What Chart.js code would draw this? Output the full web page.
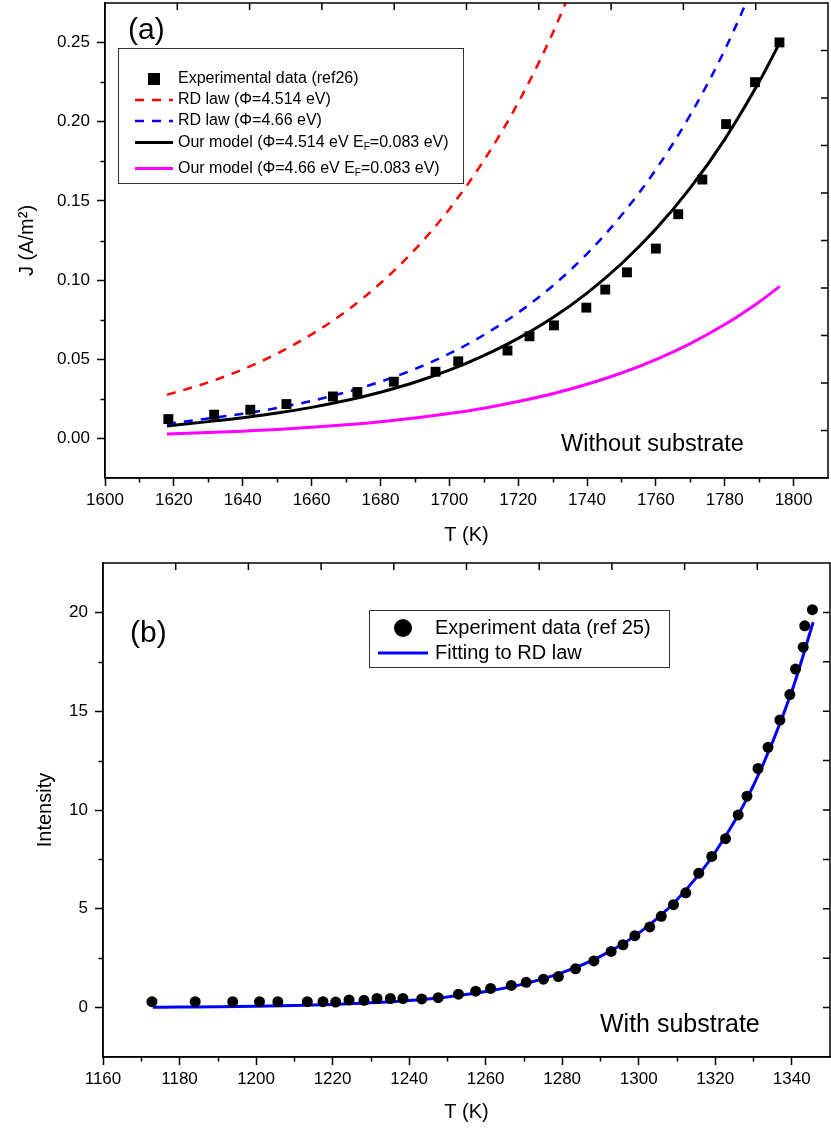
<!DOCTYPE html>
<html>
<head>
<meta charset="utf-8">
<title>J and intensity vs T</title>
<script src="https://cdn.jsdelivr.net/npm/chart.js@4.4.1/dist/chart.umd.min.js"></script>
<style>
  body { margin: 0; background: #fff; }
  #wrap { position: relative; width: 831px; height: 1129px; }
  #wrap canvas { position: absolute; left: 0; }
  #chartA { top: 0; }
  #chartB { top: 550px; }
</style>
</head>
<body>
<div id="wrap">
  <canvas id="chartA" width="831" height="550"></canvas>
  <canvas id="chartB" width="831" height="579"></canvas>
</div>
<script>
// ---- (a) without substrate ----
const expT_a = [1618.4, 1631.7, 1642.2, 1652.7, 1666.2, 1673.3, 1683.9, 1696.0, 1702.6, 1716.9, 1723.3,
                1730.4, 1739.8, 1745.3, 1751.6, 1760.0, 1766.5, 1773.5, 1780.4, 1788.8, 1795.9];
const expJ_a = [0.0122, 0.0150, 0.0181, 0.0217, 0.0265, 0.0293, 0.0358, 0.0421, 0.0487, 0.0555, 0.0645,
                0.0714, 0.0826, 0.0940, 0.1049, 0.1199, 0.1416, 0.1635, 0.1985, 0.2250, 0.2501];

const rdT_514 = [1618, 1630, 1640, 1650, 1660, 1670, 1680, 1690, 1700, 1710, 1720, 1730, 1740];
const rdJ_514 = [0.0275, 0.0354, 0.0436, 0.0536, 0.0657, 0.0803, 0.098, 0.1192, 0.1448, 0.1754, 0.212, 0.2558, 0.308];

const rdT_466 = [1618, 1630, 1640, 1650, 1660, 1670, 1680, 1690, 1700, 1710, 1720, 1730, 1740, 1750, 1760, 1770, 1780, 1790];
const rdJ_466 = [0.0092, 0.0126, 0.0156, 0.0192, 0.0237, 0.0292, 0.0358, 0.0438, 0.0535, 0.0653, 0.0794, 0.0963,
                 0.1166, 0.1409, 0.1698, 0.2043, 0.2453, 0.294];

const modelT = [1618, 1630, 1640, 1650, 1660, 1670, 1680, 1690, 1700, 1710, 1720, 1730, 1740, 1750, 1760, 1770, 1780, 1790, 1796];
const modelJ_514 = [0.0078, 0.0106, 0.0130, 0.0160, 0.0196, 0.0239, 0.0292, 0.0355, 0.0431, 0.0523, 0.0632, 0.0762,
                    0.0918, 0.1103, 0.1322, 0.1582, 0.1889, 0.2252, 0.25];
const modelJ_466 = [0.0028, 0.0037, 0.0046, 0.0056, 0.0070, 0.0086, 0.0105, 0.0129, 0.0157, 0.0191, 0.0233, 0.0282,
                    0.0342, 0.0413, 0.0498, 0.0599, 0.0719, 0.0862, 0.096];

const xTicksA = [1600, 1620, 1640, 1660, 1680, 1700, 1720, 1740, 1760, 1780, 1800];
const yTicksA = [0, 0.05, 0.10, 0.15, 0.20, 0.25];

// ---- (b) with substrate ----
const expT_b = [1172.8, 1184.1, 1193.9, 1200.9, 1205.7, 1213.4, 1217.5, 1220.8, 1224.3, 1228.2, 1231.6, 1235.1,
                1238.4, 1243.3, 1247.6, 1252.9, 1257.4, 1261.3, 1266.7, 1270.6, 1275.1, 1279.0, 1283.5, 1288.3,
                1292.8, 1295.9, 1299.0, 1302.9, 1305.9, 1309.1, 1312.3, 1315.7, 1319.1, 1322.7, 1326.0, 1328.3,
                1331.2, 1333.8, 1336.9, 1339.5, 1341.0, 1343.0, 1343.4, 1345.4];
const expI_b = [0.30, 0.30, 0.30, 0.30, 0.30, 0.30, 0.30, 0.28, 0.39, 0.37, 0.46, 0.46,
                0.46, 0.44, 0.50, 0.68, 0.83, 0.97, 1.12, 1.28, 1.44, 1.57, 1.96, 2.36,
                2.84, 3.18, 3.64, 4.08, 4.62, 5.21, 5.81, 6.80, 7.65, 8.55, 9.75, 10.70,
                12.10, 13.17, 14.55, 15.84, 17.13, 18.24, 19.32, 20.14];

const fitT_b = [1173, 1180, 1190, 1200, 1210, 1220, 1230, 1240, 1250, 1260, 1270, 1280, 1290, 1300, 1310, 1320, 1330, 1340, 1345.6];
const fitI_b = [0.02, 0.03, 0.043, 0.067, 0.103, 0.158, 0.24, 0.36, 0.54, 0.81, 1.2, 1.77, 2.59, 3.77, 5.46, 7.86, 11.25, 16.0, 19.5];

const xTicksB = [1160, 1180, 1200, 1220, 1240, 1260, 1280, 1300, 1320, 1340];
const yTicksB = [0, 5, 10, 15, 20];

const FONT = '"Liberation Sans", Arial, Helvetica, sans-serif';
const pts = (xs, ys) => xs.map((x, i) => ({ x, y: ys[i] }));
const font = size => ({ family: FONT, size });

function midpoints(ticks, min, max) {
    const step = ticks[1] - ticks[0];
    const out = [];
    for (let v = ticks[0] - step / 2; v < max - step / 100; v += step) {
        if (v > min + step / 100) out.push(v);
    }
    return out;
}

// draws label text, "_X" turns X into a subscript
function drawLabel(ctx, text, x, y, size) {
    const parts = text.split('_');
    let cx = x;
    parts.forEach((p, i) => {
        if (i > 0) {
            const sub = p.charAt(0);
            ctx.font = `${Math.round(size * 0.62)}px ${FONT}`;
            ctx.fillText(sub, cx, y + size * 0.32);
            cx += ctx.measureText(sub).width;
            p = p.slice(1);
        }
        ctx.font = `${size}px ${FONT}`;
        ctx.fillText(p, cx, y);
        cx += ctx.measureText(p).width;
    });
}

const originFrame = {
    id: 'originFrame',
    afterDatasetsDraw(chart, args, opts) {
        const { ctx, chartArea: a } = chart;
        const xs = chart.scales.x, ys = chart.scales.y;
        ctx.save();
        ctx.strokeStyle = '#000';
        ctx.lineWidth = 1.5;
        ctx.strokeRect(a.left, a.top, a.right - a.left, a.bottom - a.top);
        ctx.beginPath();
        midpoints(opts.xMajor, xs.min, xs.max).forEach(v => {
            const px = Math.round(xs.getPixelForValue(v)) + 0.5;
            ctx.moveTo(px, a.bottom); ctx.lineTo(px, a.bottom + 4.5);
        });
        midpoints(opts.yMajor, ys.min, ys.max).forEach(v => {
            const py = Math.round(ys.getPixelForValue(v)) + 0.5;
            ctx.moveTo(a.left, py); ctx.lineTo(a.left - 4.5, py);
        });
        // top and right axes: ten even steps, ticks pointing in
        for (let i = 1; i < 10; i++) {
            const px = a.left + (a.right - a.left) * i / 10;
            const py = a.top + (a.bottom - a.top) * i / 10;
            ctx.moveTo(px, a.top); ctx.lineTo(px, a.top + 7);
            ctx.moveTo(a.right, py); ctx.lineTo(a.right - 7, py);
        }
        ctx.stroke();
        ctx.restore();
    },
    afterDraw(chart, args, opts) {
        const { ctx } = chart;
        const lg = opts.legend;
        ctx.save();
        ctx.fillStyle = '#fff';
        ctx.fillRect(lg.x, lg.y, lg.w, lg.h);
        ctx.strokeStyle = '#333';
        ctx.lineWidth = 1;
        ctx.strokeRect(lg.x + 0.5, lg.y + 0.5, lg.w, lg.h);

        chart.data.datasets.forEach((ds, i) => {
            const y = lg.rows[i];
            if (ds.showLine) {
                ctx.strokeStyle = ds.borderColor;
                ctx.lineWidth = ds.borderWidth;
                ctx.setLineDash(ds.borderDash || []);
                ctx.beginPath();
                ctx.moveTo(lg.sampleX0, y);
                ctx.lineTo(lg.sampleX1, y);
                ctx.stroke();
                ctx.setLineDash([]);
            } else {
                ctx.fillStyle = ds.backgroundColor;
                const cx = (lg.sampleX0 + lg.sampleX1) / 2;
                if (ds.pointStyle === 'rect') {
                    ctx.fillRect(cx - lg.marker / 2, y - lg.marker / 2, lg.marker, lg.marker);
                } else {
                    ctx.beginPath();
                    ctx.arc(cx, y, lg.marker / 2, 0, Math.PI * 2);
                    ctx.fill();
                }
            }
            ctx.fillStyle = '#000';
            ctx.textBaseline = 'middle';
            ctx.textAlign = 'left';
            drawLabel(ctx, ds.label, lg.textX, y, lg.size);
        });

        ctx.textBaseline = 'alphabetic';
        opts.notes.forEach(n => {
            ctx.font = `${n.size}px ${FONT}`;
            ctx.fillStyle = '#000';
            ctx.fillText(n.text, n.x, n.y);
        });
        ctx.restore();
    }
};

function axes(cfg) {
    const grid = { display: true, drawOnChartArea: false, drawTicks: true, tickLength: 8, tickColor: '#000', tickWidth: 1.5 };
    const border = { display: true, color: '#000', width: 1.5 };
    return {
        x: {
            type: 'linear', min: cfg.xMin, max: cfg.xMax,
            afterBuildTicks: s => { s.ticks = cfg.xTicks.map(v => ({ value: v })); },
            afterFit: s => { s.height = cfg.xHeight; s.paddingLeft = 0; s.paddingRight = 0; },
            ticks: { font: font(cfg.tickSize), color: '#000', padding: cfg.xPad, maxRotation: 0, autoSkip: false, callback: v => String(v) },
            grid, border,
            title: { display: true, text: 'T (K)', font: font(20), color: '#000', padding: { top: 0, bottom: cfg.xTitlePad } }
        },
        y: {
            type: 'linear', min: cfg.yMin, max: cfg.yMax,
            afterBuildTicks: s => { s.ticks = cfg.yTicks.map(v => ({ value: v })); },
            afterFit: s => { s.width = cfg.yWidth; s.paddingTop = 0; s.paddingBottom = 0; },
            ticks: { font: font(cfg.tickSize), color: '#000', padding: 7, autoSkip: false, callback: cfg.yFormat },
            grid, border,
            title: { display: true, text: cfg.yTitle, font: font(20), color: '#000', padding: { top: cfg.yTitlePad, bottom: 0 } }
        }
    };
}

const chartA = new Chart(document.getElementById('chartA'), {
    type: 'scatter',
    data: {
        datasets: [
            { label: 'Experimental data (ref26)', data: pts(expT_a, expJ_a), showLine: false, pointStyle: 'rect',
              pointRadius: 7, backgroundColor: '#000', borderColor: '#000', borderWidth: 0 },
            { label: 'RD law (Φ=4.514 eV)', data: pts(rdT_514, rdJ_514), showLine: true, borderColor: '#ff0000',
              borderWidth: 2.5, borderDash: [9, 8], pointRadius: 0, cubicInterpolationMode: 'monotone' },
            { label: 'RD law (Φ=4.66 eV)', data: pts(rdT_466, rdJ_466), showLine: true, borderColor: '#0000ff',
              borderWidth: 2.5, borderDash: [9, 8], pointRadius: 0, cubicInterpolationMode: 'monotone' },
            { label: 'Our model (Φ=4.514 eV E_F=0.083 eV)', data: pts(modelT, modelJ_514), showLine: true,
              borderColor: '#000', borderWidth: 3, pointRadius: 0, cubicInterpolationMode: 'monotone' },
            { label: 'Our model (Φ=4.66 eV E_F=0.083 eV)', data: pts(modelT, modelJ_466), showLine: true,
              borderColor: '#ff00ff', borderWidth: 3, pointRadius: 0, cubicInterpolationMode: 'monotone' }
        ]
    },
    options: {
        responsive: false,
        animation: false,
        events: [],
        layout: { autoPadding: false, padding: { left: 0, top: 3, right: 3, bottom: 0 } },
        scales: axes({
            xMin: 1600, xMax: 1810, xTicks: xTicksA, xHeight: 72, xPad: 4, xTitlePad: 3,
            yMin: -0.025, yMax: 0.275, yTicks: yTicksA, yWidth: 105, yTitlePad: 15,
            tickSize: 17, yTitle: 'J (A/m²)', yFormat: v => v.toFixed(2)
        }),
        plugins: {
            legend: { display: false },
            tooltip: { enabled: false },
            originFrame: {
                xMajor: xTicksA, yMajor: yTicksA,
                legend: { x: 118, y: 48, w: 345, h: 135, rows: [79, 100, 121, 142.5, 168.5],
                          sampleX0: 135, sampleX1: 173, textX: 178, size: 16, marker: 12 },
                notes: [
                    { text: '(a)', x: 128, y: 39, size: 30 },
                    { text: 'Without substrate', x: 561, y: 451, size: 23.5 }
                ]
            }
        }
    },
    plugins: [originFrame]
});

const chartB = new Chart(document.getElementById('chartB'), {
    type: 'scatter',
    data: {
        datasets: [
            { label: 'Experiment data (ref 25)', data: pts(expT_b, expI_b), showLine: false, pointStyle: 'circle',
              pointRadius: 5.5, backgroundColor: '#000', borderColor: '#000', borderWidth: 0 },
            { label: 'Fitting to RD law', data: pts(fitT_b, fitI_b), showLine: true, borderColor: '#0000ff',
              borderWidth: 3, pointRadius: 0, cubicInterpolationMode: 'monotone' }
        ]
    },
    options: {
        responsive: false,
        animation: false,
        events: [],
        layout: { autoPadding: false, padding: { left: 0, top: 13, right: 1, bottom: 0 } },
        scales: axes({
            xMin: 1160, xMax: 1350, xTicks: xTicksB, xHeight: 72, xPad: 4, xTitlePad: 5,
            yMin: -2.5, yMax: 22.5, yTicks: yTicksB, yWidth: 103, yTitlePad: 33,
            tickSize: 17, yTitle: 'Intensity', yFormat: v => String(v)
        }),
        plugins: {
            legend: { display: false },
            tooltip: { enabled: false },
            originFrame: {
                xMajor: xTicksB, yMajor: yTicksB,
                legend: { x: 369, y: 60, w: 300, h: 57, rows: [78, 103],
                          sampleX0: 378, sampleX1: 428, textX: 435, size: 20, marker: 18 },
                notes: [
                    { text: '(b)', x: 130, y: 92, size: 30 },
                    { text: 'With substrate', x: 600, y: 482, size: 25 }
                ]
            }
        }
    },
    plugins: [originFrame]
});
</script>
</body>
</html>
